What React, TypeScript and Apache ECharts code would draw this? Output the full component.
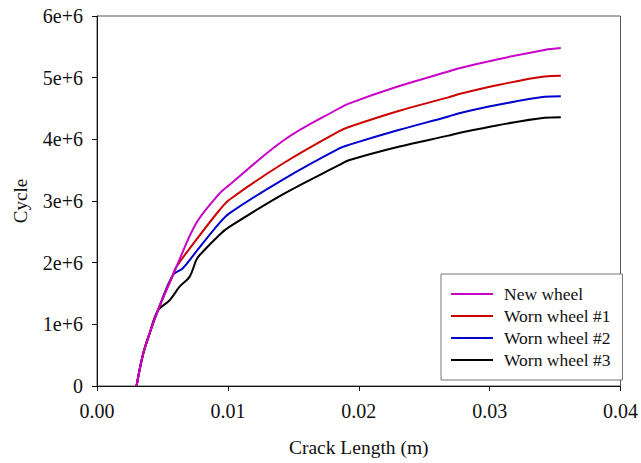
import React, { useEffect, useRef } from "react";
import * as echarts from "echarts";

const seriesNames = ["New wheel", "Worn wheel #1", "Worn wheel #2", "Worn wheel #3"];
const colors = ["#c800c8", "#cc0000", "#0000cc", "#000000"];

const newWheelX = [0.00302, 0.0035, 0.00403, 0.00464, 0.0058, 0.00606, 0.00758, 0.00935, 0.01011, 0.0143, 0.01848, 0.01924, 0.02304, 0.02685, 0.0276, 0.03065, 0.0342, 0.03544];
const newWheelY = [0, 0.5e6, 0.86e6, 1.22e6, 1.8e6, 1.93e6, 2.64e6, 3.12e6, 3.26e6, 3.99e6, 4.5e6, 4.58e6, 4.86e6, 5.1e6, 5.15e6, 5.3e6, 5.45e6, 5.48e6];

const worn1X = [0.00302, 0.0035, 0.00403, 0.00464, 0.0058, 0.00606, 0.00758, 0.00935, 0.01011, 0.0143, 0.01848, 0.01924, 0.02304, 0.02685, 0.0276, 0.03065, 0.0342, 0.03544];
const worn1Y = [0, 0.5e6, 0.86e6, 1.22e6, 1.8e6, 1.93e6, 2.37e6, 2.85e6, 3.02e6, 3.62e6, 4.13e6, 4.2e6, 4.46e6, 4.68e6, 4.73e6, 4.88e6, 5.02e6, 5.03e6];

const worn2X = [0.00302, 0.0035, 0.00403, 0.00464, 0.0058, 0.00656, 0.00758, 0.00935, 0.01011, 0.0143, 0.01848, 0.01924, 0.02304, 0.02685, 0.0276, 0.03065, 0.0342, 0.03544];
const worn2Y = [0, 0.5e6, 0.86e6, 1.22e6, 1.8e6, 1.91e6, 2.18e6, 2.64e6, 2.8e6, 3.36e6, 3.85e6, 3.91e6, 4.15e6, 4.37e6, 4.42e6, 4.56e6, 4.69e6, 4.7e6];

const worn3X = [0.00302, 0.0035, 0.00403, 0.00464, 0.00555, 0.00631, 0.00707, 0.00758, 0.00783, 0.00935, 0.01011, 0.0143, 0.01848, 0.01924, 0.02304, 0.02685, 0.0276, 0.03065, 0.0342, 0.03544];
const worn3Y = [0, 0.5e6, 0.86e6, 1.22e6, 1.39e6, 1.61e6, 1.77e6, 2.04e6, 2.12e6, 2.45e6, 2.58e6, 3.12e6, 3.58e6, 3.66e6, 3.88e6, 4.06e6, 4.1e6, 4.23e6, 4.35e6, 4.36e6];

const xTickLabels = ["0.00", "0.01", "0.02", "0.03", "0.04"];
const yTickLabels = ["0", "1e+6", "2e+6", "3e+6", "4e+6", "5e+6", "6e+6"];

const allX = [newWheelX, worn1X, worn2X, worn3X];
const allY = [newWheelY, worn1Y, worn2Y, worn3Y];

const FONT = "Liberation Serif";

export default function App() {
  const ref = useRef<HTMLDivElement>(null);
  useEffect(() => {
    if (!ref.current) return;
    const chart = echarts.init(ref.current, null, { renderer: "svg" });
    chart.setOption({
      animation: false,
      backgroundColor: "#ffffff",
      textStyle: { fontFamily: FONT },
      grid: {
        left: 97,
        right: 18,
        top: 16,
        bottom: 77,
        show: true,
        borderColor: "#555",
        borderWidth: 1,
      },
      legend: {
        orient: "vertical",
        left: 441,
        top: 274,
        padding: [11, 12, 11, 10],
        itemGap: 4,
        itemWidth: 42,
        itemHeight: 2,
        icon: "rect",
        borderColor: "#777",
        borderWidth: 1,
        backgroundColor: "#fff",
        textStyle: {
          fontFamily: FONT,
          fontSize: 17.5,
          color: "#111",
          lineHeight: 18,
          padding: [0, 0, 0, 6],
        },
        data: seriesNames,
      },
      xAxis: {
        type: "value",
        min: 0,
        max: 0.04,
        interval: 0.01,
        name: "Crack Length (m)",
        nameLocation: "middle",
        nameGap: 51,
        nameTextStyle: { fontFamily: FONT, fontSize: 19.5, color: "#111" },
        splitLine: { show: false },
        axisLine: { show: true, onZero: false, lineStyle: { color: "#111", width: 1 } },
        axisTick: { show: true, inside: false, length: 5, lineStyle: { color: "#111" } },
        axisLabel: {
          margin: 15,
          fontFamily: FONT,
          fontSize: 20,
          color: "#111",
          formatter: (v: number) => xTickLabels[Math.round(v / 0.01)] ?? "",
        },
      },
      yAxis: {
        type: "value",
        min: 0,
        max: 6e6,
        interval: 1e6,
        name: "Cycle",
        nameLocation: "middle",
        nameGap: 67,
        nameRotate: 90,
        nameTextStyle: { fontFamily: FONT, fontSize: 19, color: "#111" },
        splitLine: { show: false },
        axisLine: { show: true, lineStyle: { color: "#111", width: 1 } },
        axisTick: { show: true, inside: false, length: 5, lineStyle: { color: "#111" } },
        axisLabel: {
          margin: 14,
          fontFamily: FONT,
          fontSize: 20,
          color: "#111",
          formatter: (v: number) => yTickLabels[Math.round(v / 1e6)] ?? "",
        },
      },
      series: seriesNames.map((name, i) => ({
        name,
        type: "line",
        data: allX[i].map((x, j) => [x, allY[i][j]]),
        symbol: "none",
        smooth: 0.35,
        z: 10 - i,
        lineStyle: { color: colors[i], width: 2 },
        itemStyle: { color: colors[i] },
      })),
    });
    return () => chart.dispose();
  }, []);
  return (
    <div
      ref={ref}
      style={{ position: "absolute", left: 0, top: 0, width: 641, height: 463 }}
    />
  );
}
